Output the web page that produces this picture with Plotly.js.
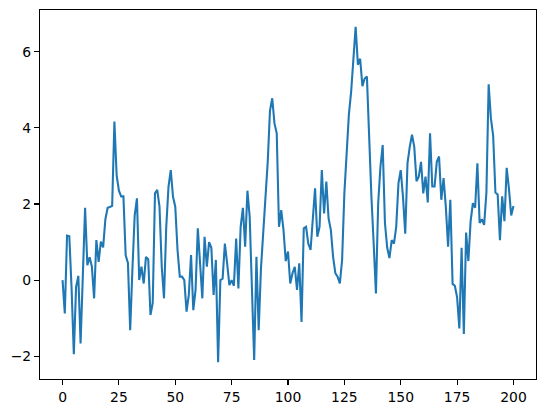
<!DOCTYPE html>
<html>
<head>
<meta charset="utf-8">
<script src="https://cdn.plot.ly/plotly-3.0.1.min.js"></script>
<style>html,body{margin:0;padding:0;background:#fff;}#chart{width:546px;height:413px;}</style>
</head>
<body>
<div id="chart"></div>
<script>
// series values, index 0..200
const values = [
  0.0, -0.88, 1.17, 1.15, -0.2, -1.95, -0.18, 0.11, -1.67, 0.2,
  1.9, 0.39, 0.6, 0.36, -0.48, 1.05, 0.48, 1.01, 0.86, 1.6,
  1.9, 1.92, 1.95, 4.17, 2.75, 2.35, 2.2, 2.2, 0.65, 0.45,
  -1.32, 0.3, 1.7, 2.15, 0.0, 0.35, -0.09, 0.61, 0.55, -0.92,
  -0.6, 2.28, 2.37, 1.93, 0.35, -0.48, 1.4, 2.46, 2.89, 2.19,
  1.93, 0.79, 0.09, 0.09, 0.0, -0.83, -0.39, 0.66, -0.79, -0.26,
  1.36, 0.44, -0.48, 1.14, 0.35, 1.0, 0.85, -0.39, 0.53, -2.16,
  0.0, 0.04, 0.96, 0.44, -0.13, 0.0, -0.15, 1.09, -0.22, 1.4,
  1.9, 0.88, 2.35, 1.67, -0.44, -2.1, 0.61, -1.32, 0.3, 1.3,
  2.4, 3.1, 4.45, 4.78, 4.12, 3.86, 1.4, 1.84, 1.32, 0.5,
  0.75, -0.09, 0.18, 0.35, -0.26, 0.44, -1.1, 1.36, 1.4, 0.96,
  0.79, 1.49, 2.41, 1.14, 1.4, 2.89, 1.75, 2.59, 1.62, 1.32,
  0.61, 0.18, 0.09, -0.09, 0.53, 2.28, 3.4, 4.35, 4.95, 5.8,
  6.66, 5.66, 5.82, 5.1, 5.3, 5.35, 3.6, 2.19, 0.96, -0.35,
  2.02, 2.98, 3.55, 1.5, 0.85, 0.58, 1.05, 0.96, 1.4, 2.55,
  2.89, 2.19, 1.22, 3.07, 3.5, 3.82, 3.51, 2.6, 2.72, 3.11,
  2.28, 2.72, 2.04, 3.86, 2.46, 2.46, 3.11, 3.25, 2.11, 2.68,
  1.93, 0.88, 2.11, -0.1, -0.15, -0.45, -1.27, 0.85, -1.42, 1.25,
  0.5, 1.55, 2.02, 1.9, 3.07, 1.5, 1.6, 1.45, 2.3, 5.15,
  4.25, 3.8, 2.3, 2.25, 1.05, 2.2, 1.55, 2.95, 2.4, 1.7,
  1.95
];
const xIndex = values.map((_, i) => i);
const xTickVals = [0, 25, 50, 75, 100, 125, 150, 175, 200];
const yTickVals = [-2, 0, 2, 4, 6];

const ymin = Math.min(...values), ymax = Math.max(...values);
const ypad = 0.05 * (ymax - ymin);
const xpad = 0.05 * (xIndex[xIndex.length - 1] - xIndex[0]);

const axisCommon = {
  showline: true, mirror: true, linecolor: '#000', linewidth: 1.1,
  ticks: 'outside', ticklen: 5, tickwidth: 1.1, tickcolor: '#000',
  showgrid: false, zeroline: false, automargin: false,
  tickfont: {family: 'DejaVu Sans', size: 13.9, color: '#000'}
};

Plotly.newPlot('chart', [{
  x: xIndex, y: values, type: 'scatter', mode: 'lines',
  line: {color: '#1f77b4', width: 2.08}
}], {
  width: 546, height: 413,
  margin: {l: 40, r: 10, t: 10, b: 34},
  paper_bgcolor: '#fff', plot_bgcolor: '#fff',
  showlegend: false,
  xaxis: Object.assign({}, axisCommon, {
    range: [xIndex[0] - xpad, xIndex[xIndex.length - 1] + xpad],
    tickvals: xTickVals, ticktext: xTickVals.map(String)
  }),
  yaxis: Object.assign({}, axisCommon, {
    range: [ymin - ypad, ymax + ypad],
    tickvals: yTickVals
  })
}, {staticPlot: true, displayModeBar: false});
</script>
</body>
</html>
